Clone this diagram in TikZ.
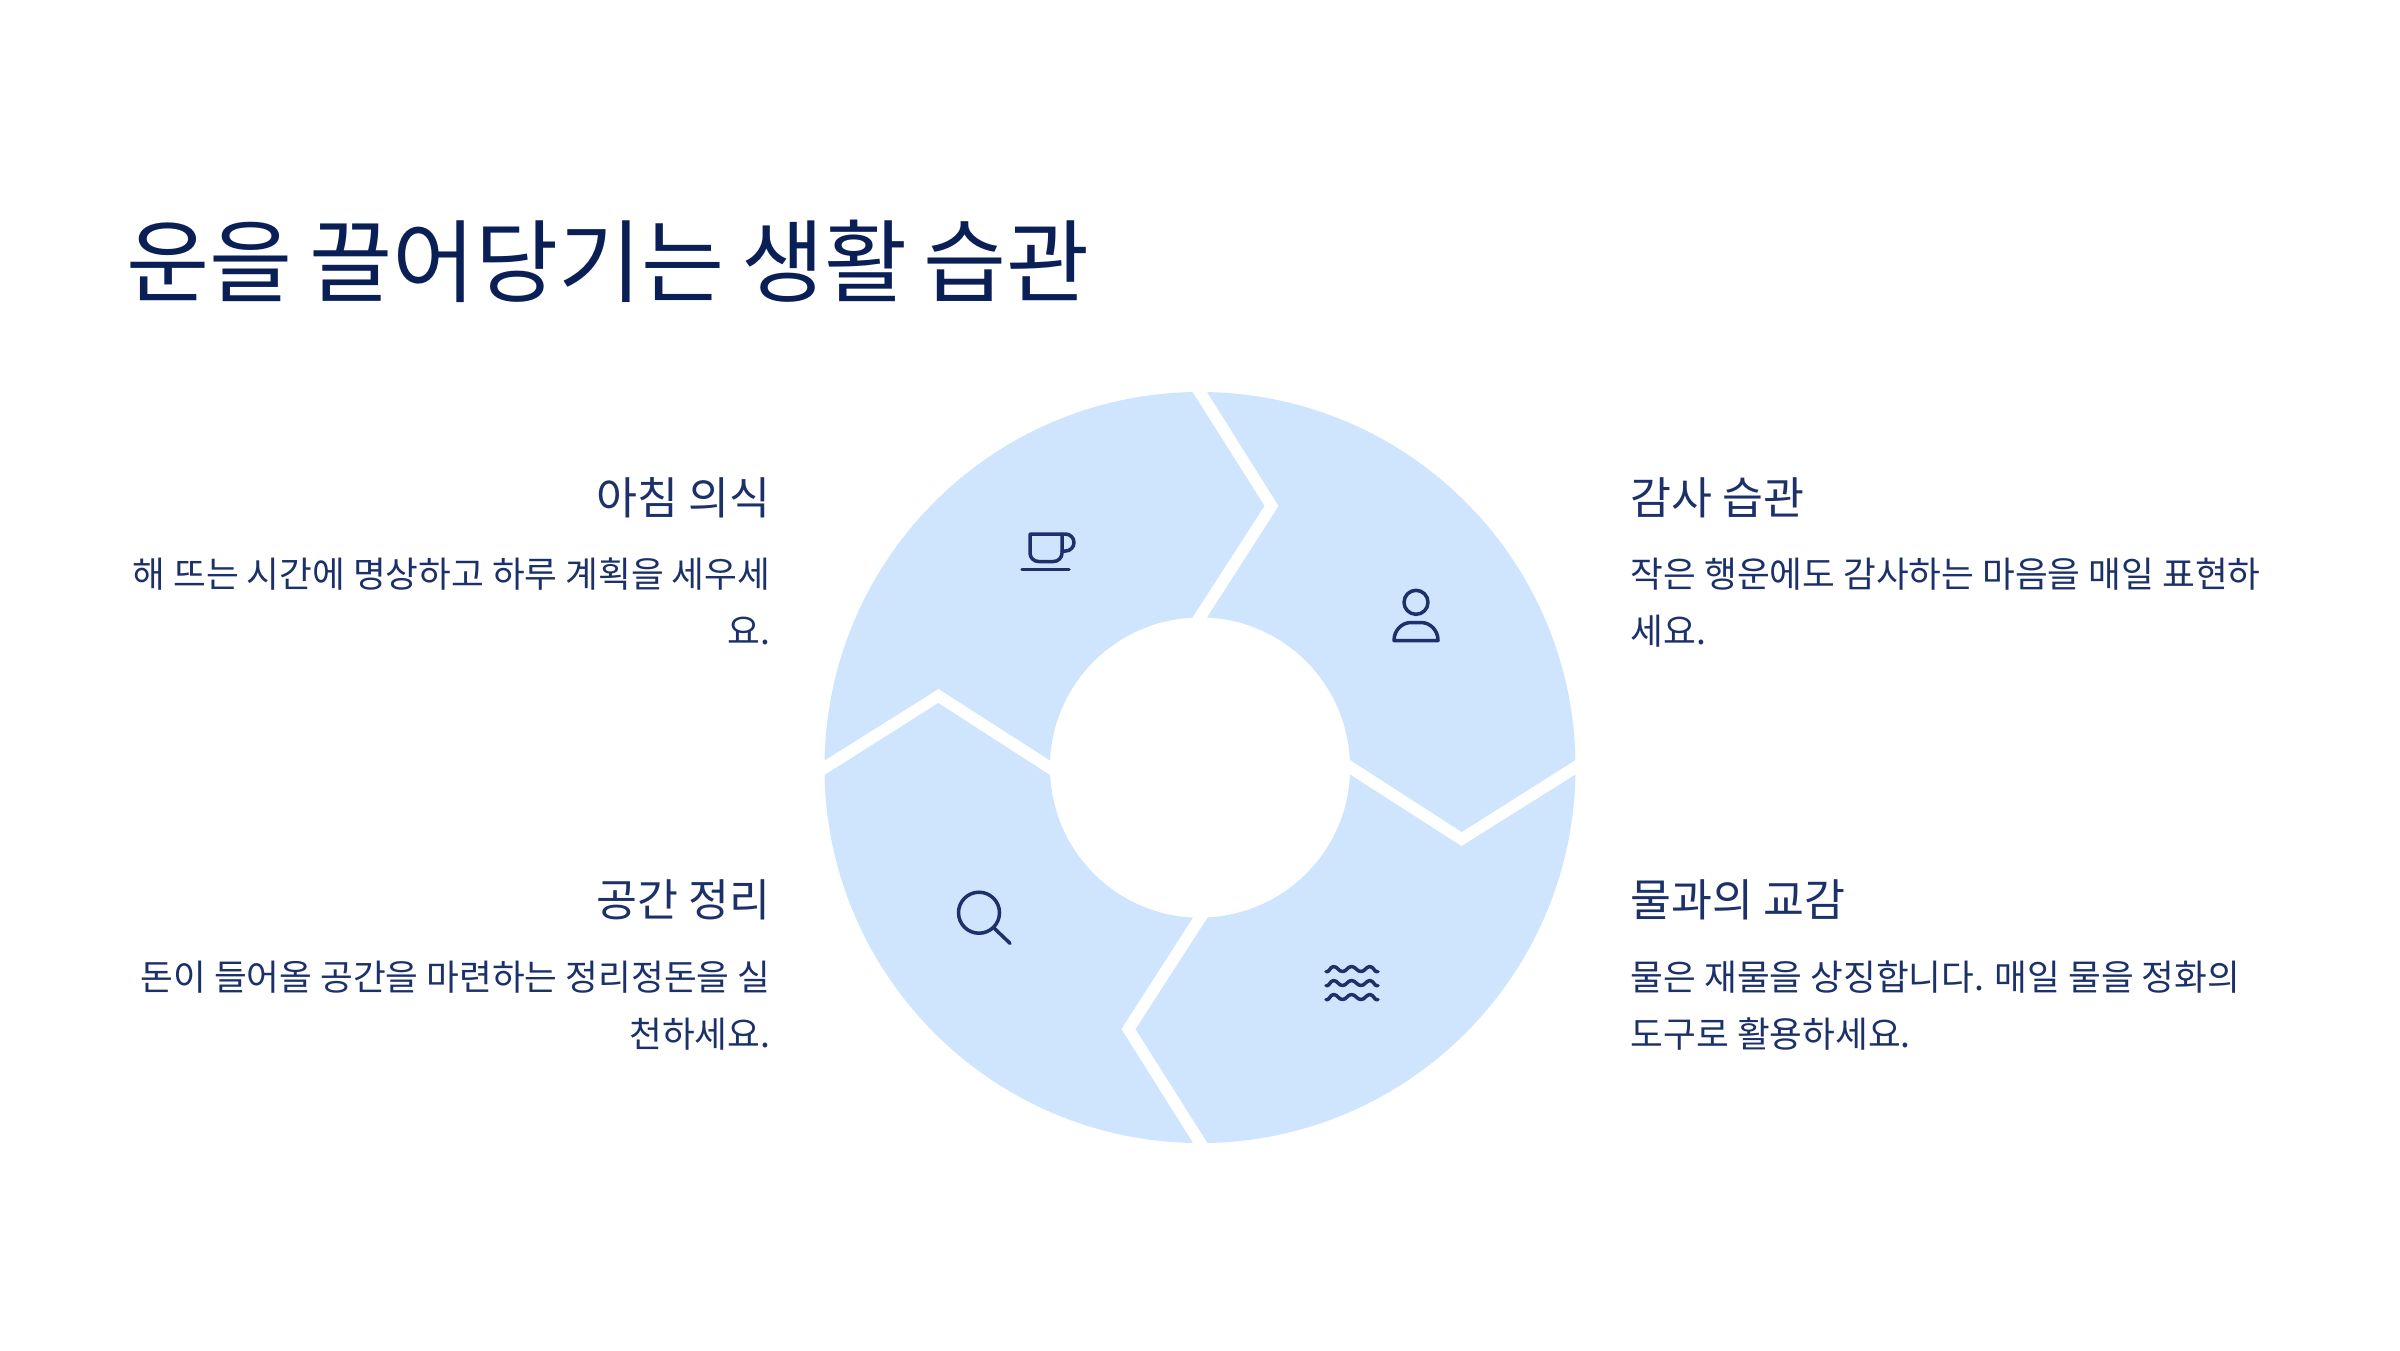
\documentclass[tikz,border=0pt]{standalone}
\usepackage{xcolor}
\usepackage{fontspec}
\setmainfont{Noto Sans CJK KR}
\newfontfamily\titlefont[WordSpace=0.8]{Noto Sans CJK KR}
\definecolor{petalblue}{RGB}{207, 229, 254}
\definecolor{inknavy}{RGB}{11, 31, 87}
\definecolor{softnavy}{RGB}{28, 48, 105}

\begin{document}
\begin{tikzpicture}[
        x=0.01cm, y=-0.01cm,
        petal/.style={fill=petalblue},
        icon/.style={draw=softnavy, line width=0.035cm, line cap=round, line join=round},
        titletext/.style={anchor=base west, inner sep=0pt, text=inknavy, font=\titlefont\fontsize{25.7}{32}\selectfont},
        headtext/.style={inner sep=0pt, text=softnavy, font=\fontsize{12.66}{16}\selectfont},
        bodytext/.style={inner sep=0pt, text=softnavy, font=\fontsize{10.13}{16.2}\selectfont}
    ]
        \useasboundingbox (0,0) rectangle (2400,1350);
        \coordinate (hub) at (1200,767.5);

        % four petals, one turned copy per quarter
        \foreach \turn in {0,90,180,270} {
            \begin{scope}[shift={(hub)}, rotate=\turn]
                \fill[petal] (7,-375.5) -- (78.6,-261.5) -- (7,-150)
                    arc[start angle=-87.33, end angle=-2.87, radius=150]
                    -- (261.7,64.5) -- (375.5,-7.5)
                    arc[start angle=-1.14, end angle=-88.93, radius=375.5] -- cycle;
            \end{scope}
        }

        % title
        \node[titletext] (title) at (126,295) {운을 끌어당기는 생활 습관};

        % left column
        \node[headtext, anchor=base east] (morninghead) at (771.5,514) {아침 의식};
        \node[bodytext, anchor=base east, align=right] (morningbody) at (771,644.5) {해 뜨는 시간에 명상하고 하루 계획을 세우세\\요.};
        \node[headtext, anchor=base east] (spacehead) at (771.5,916.5) {공간 정리};
        \node[bodytext, anchor=base east, align=right] (spacebody) at (771,1047) {돈이 들어올 공간을 마련하는 정리정돈을 실\\천하세요.};

        % right column
        \node[headtext, anchor=base west] (thankshead) at (1630,514) {감사 습관};
        \node[bodytext, anchor=base west, align=left] (thanksbody) at (1630,644.5) {작은 행운에도 감사하는 마음을 매일 표현하\\세요.};
        \node[headtext, anchor=base west] (waterhead) at (1630,916.5) {물과의 교감};
        \node[bodytext, anchor=base west, align=left] (waterbody) at (1630,1047) {물은 재물을 상징합니다. 매일 물을 정화의\\도구로 활용하세요.};

        % cup
        \draw[icon] (1030,534) -- (1062,534) -- (1062,553) arc[start angle=0, end angle=90, radius=8.5] -- (1038.5,561.5) arc[start angle=90, end angle=180, radius=8.5] -- cycle;
        \draw[icon] (1062,534) -- (1065.5,534) arc[start angle=-90, end angle=90, radius=8.5] -- (1062,551);
        \draw[icon] (1022,569.5) -- (1069,569.5);

        % person
        \draw[icon] (1416,602.3) circle[radius=12];
        \draw[icon] (1394,640.5) -- (1438,640.5) .. controls (1438,630) and (1430,622.5) .. (1421,622.5) -- (1411,622.5) .. controls (1402,622.5) and (1394,630) .. cycle;

        % magnifier
        \draw[icon] (979,912.7) circle[radius=20.5];
        \draw[icon] (994.3,928.3) -- (1010,943.3);

        % waves
        \foreach \rowy in {969,983,997} {
            \draw[icon] (1326,\rowy+2.5) to[out=-30, in=180] (1333.5,\rowy-2.5) to[out=0, in=180] (1342.5,\rowy+2.5) to[out=0, in=180] (1351.5,\rowy-2.5) to[out=0, in=180] (1361,\rowy+2.5) to[out=0, in=180] (1370,\rowy-2.5) to[out=0, in=210] (1378,\rowy+2.5);
        }
    \end{tikzpicture}
\end{document}
